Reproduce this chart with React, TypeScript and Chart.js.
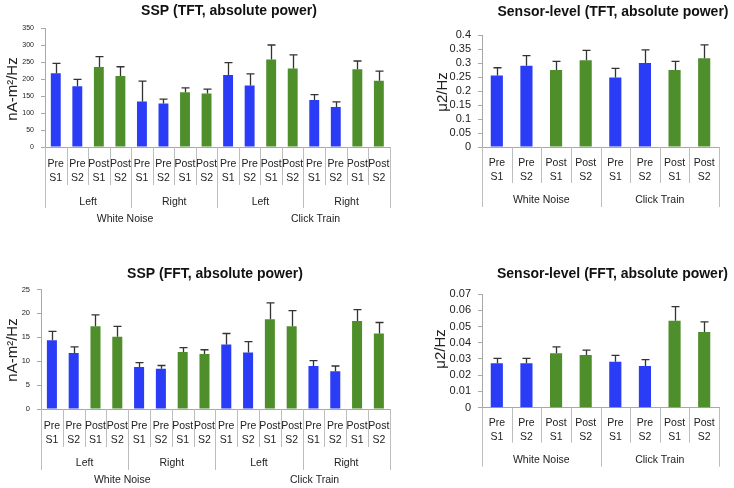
import { useEffect, useRef } from "react";
import { Chart, registerables } from "chart.js";

Chart.register(...registerables);

// ---------- data ----------
const sessionLabels: string[][] = [["Pre", "S1"], ["Pre", "S2"], ["Post", "S1"], ["Post", "S2"]];
const sides = ["Left", "Right"];
const stimuli = ["White Noise", "Click Train"];

const sspTftValues = [217, 179, 235, 209, 134, 128, 161, 157, 212, 181, 257, 231, 138, 118, 229, 195];
const sspTftErrors = [29, 20, 31, 27, 60, 13, 13, 13, 36, 34, 43, 40, 16, 15, 24, 28];

const sensorTftValues = [0.255, 0.29, 0.275, 0.31, 0.248, 0.3, 0.275, 0.317];
const sensorTftErrors = [0.028, 0.036, 0.031, 0.035, 0.033, 0.047, 0.031, 0.048];

const sspFftValues = [14.4, 11.7, 17.3, 15.1, 8.8, 8.4, 11.9, 11.5, 13.5, 11.8, 18.8, 17.3, 9.0, 7.9, 18.4, 15.8];
const sspFftErrors = [1.85, 1.3, 2.4, 2.2, 0.9, 0.7, 0.95, 0.9, 2.3, 2.3, 3.4, 3.3, 1.1, 1.1, 2.4, 2.3];

const sensorFftValues = [0.0273, 0.0273, 0.0335, 0.0324, 0.0283, 0.0257, 0.0536, 0.0466];
const sensorFftErrors = [0.0031, 0.0031, 0.0039, 0.0031, 0.0039, 0.0039, 0.0086, 0.0062];

// ---------- style ----------
const BLUE = "#2a3cf5";
const GREEN = "#4f8f2b";
const LINE = "#bdbdbd";
const TEXT = "#222222";
const FONT = '"Liberation Sans", Arial, sans-serif';

type Panel = {
  x: number; y: number; w: number; h: number;
  left: number; right: number; top: number; bottom: number;
  title: string; titleX: number; titleY: number;
  yTitle: string; yTitleX: number; yTitleY: number;
  yMax: number; yStep: number; yFont: number;
  values: number[]; errors: number[];
  labels: string[][];
  groupSize: number; groups: string[];
  superGroups: string[]; superOffsets: number[];
  tickPad: number; catLine: number; groupLine: number; groupLabelY: number; superLabelY: number;
  barPct: number;
};

const rep = (n: number) => {
  const out: string[][] = [];
  for (let i = 0; i < n; i++) sessionLabels.forEach((l) => out.push(l));
  return out;
};

const panels: Panel[] = [
  {
    x: 0, y: 0, w: 400, h: 235, left: 45, right: 396, top: 28, bottom: 147,
    title: "SSP (TFT, absolute power)", titleX: 229, titleY: 11,
    yTitle: "nA-m²/Hz", yTitleX: 13, yTitleY: 89,
    yMax: 350, yStep: 50, yFont: 7,
    values: sspTftValues, errors: sspTftErrors, labels: rep(4),
    groupSize: 4, groups: [sides[0], sides[1], sides[0], sides[1]],
    superGroups: stimuli, superOffsets: [-6, 12],
    tickPad: 10.5, catLine: 38, groupLine: 61, groupLabelY: 55, superLabelY: 72,
    barPct: 0.46,
  },
  {
    x: 400, y: 0, w: 334, h: 235, left: 82, right: 319, top: 35, bottom: 147,
    title: "Sensor-level (TFT, absolute power)", titleX: 613, titleY: 12.5,
    yTitle: "μ2/Hz", yTitleX: 443, yTitleY: 92,
    yMax: 0.4, yStep: 0.05, yFont: 11,
    values: sensorTftValues, errors: sensorTftErrors, labels: rep(2),
    groupSize: 4, groups: stimuli,
    superGroups: [], superOffsets: [],
    tickPad: 9, catLine: 36, groupLine: 60, groupLabelY: 53, superLabelY: 0,
    barPct: 0.41,
  },
  {
    x: 0, y: 240, w: 400, h: 248, left: 41, right: 396, top: 49.5, bottom: 169,
    title: "SSP (FFT, absolute power)", titleX: 215, titleY: 274,
    yTitle: "nA-m²/Hz", yTitleX: 13, yTitleY: 350,
    yMax: 25, yStep: 5, yFont: 7.5,
    values: sspFftValues, errors: sspFftErrors, labels: rep(4),
    groupSize: 4, groups: [sides[0], sides[1], sides[0], sides[1]],
    superGroups: stimuli, superOffsets: [-6, 12],
    tickPad: 10.5, catLine: 38, groupLine: 61, groupLabelY: 54.5, superLabelY: 71.5,
    barPct: 0.46,
  },
  {
    x: 400, y: 240, w: 334, h: 248, left: 82, right: 319, top: 54, bottom: 167.7,
    title: "Sensor-level (FFT, absolute power)", titleX: 612.5, titleY: 274.5,
    yTitle: "μ2/Hz", yTitleX: 441, yTitleY: 349,
    yMax: 0.07, yStep: 0.01, yFont: 11,
    values: sensorFftValues, errors: sensorFftErrors, labels: rep(2),
    groupSize: 4, groups: stimuli,
    superGroups: [], superOffsets: [],
    tickPad: 8, catLine: 35, groupLine: 59, groupLabelY: 52.5, superLabelY: 0,
    barPct: 0.41,
  },
];

function PanelChart({ p }: { p: Panel }) {
  const ref = useRef<HTMLCanvasElement>(null);
  useEffect(() => {
    const decor = {
      id: "decor",
      afterDatasetsDraw(chart: any) {
        const ctx = chart.ctx as CanvasRenderingContext2D;
        const ys = chart.scales.y;
        const meta = chart.getDatasetMeta(0);
        ctx.save();
        ctx.strokeStyle = "#333333";
        ctx.lineWidth = 1.3;
        meta.data.forEach((el: any, i: number) => {
          const top = ys.getPixelForValue(p.values[i] + p.errors[i]);
          const x = Math.round(el.x) + 0.5;
          ctx.beginPath();
          ctx.moveTo(x, el.y);
          ctx.lineTo(x, top);
          ctx.moveTo(x - 4, top);
          ctx.lineTo(x + 4, top);
          ctx.stroke();
        });
        ctx.restore();
      },
      afterDraw(chart: any) {
        const ctx = chart.ctx as CanvasRenderingContext2D;
        const xs = chart.scales.x;
        const area = chart.chartArea;
        const n = p.values.length;
        const half = (xs.getPixelForValue(1) - xs.getPixelForValue(0)) / 2;
        const boundary = (i: number) => (i < n ? xs.getPixelForValue(i) - half : xs.getPixelForValue(n - 1) + half);
        ctx.save();
        ctx.strokeStyle = LINE;
        ctx.lineWidth = 1;
        for (let i = 0; i <= n; i++) {
          const bx = Math.round(boundary(i)) + 0.5;
          const len = i % p.groupSize === 0 ? p.groupLine : p.catLine;
          ctx.beginPath();
          ctx.moveTo(bx, area.bottom);
          ctx.lineTo(bx, area.bottom + len);
          ctx.stroke();
        }
        ctx.fillStyle = TEXT;
        ctx.font = `10.5px ${FONT}`;
        ctx.textAlign = "center";
        ctx.textBaseline = "middle";
        p.groups.forEach((g, gi) => {
          const cx = (boundary(gi * p.groupSize) + boundary((gi + 1) * p.groupSize)) / 2;
          ctx.fillText(g, cx, area.bottom + p.groupLabelY);
        });
        const superSize = p.groupSize * 2;
        p.superGroups.forEach((g, si) => {
          const cx = (boundary(si * superSize) + boundary((si + 1) * superSize)) / 2 + p.superOffsets[si];
          ctx.fillText(g, cx, area.bottom + p.superLabelY);
        });
        // title
        ctx.fillStyle = "#111111";
        ctx.font = `bold 14px ${FONT}`;
        ctx.fillText(p.title, p.titleX - p.x, p.titleY - p.y);
        // y title
        ctx.save();
        ctx.translate(p.yTitleX - p.x, p.yTitleY - p.y);
        ctx.rotate(-Math.PI / 2);
        ctx.font = `15px ${FONT}`;
        ctx.fillStyle = TEXT;
        ctx.fillText(p.yTitle, 0, 0);
        ctx.restore();
        ctx.restore();
      },
    };

    const chart = new Chart(ref.current!, {
      type: "bar",
      data: {
        labels: p.labels,
        datasets: [
          {
            data: p.values,
            backgroundColor: p.labels.map((l) => (l[0] === "Post" ? GREEN : BLUE)),
            barPercentage: p.barPct,
            categoryPercentage: 1,
            borderWidth: 0,
          },
        ],
      },
      options: {
        responsive: false,
        animation: false,
        devicePixelRatio: 1,
        layout: { padding: { left: 0, right: p.w - p.right, top: p.top, bottom: 0 } },
        plugins: { legend: { display: false }, title: { display: false }, tooltip: { enabled: false } },
        scales: {
          x: {
            type: "category",
            offset: true,
            grid: { display: false, drawTicks: false },
            border: { display: true, color: "#a8a8a8", width: 1 },
            ticks: {
              autoSkip: false,
              maxRotation: 0,
              minRotation: 0,
              padding: p.tickPad,
              color: TEXT,
              font: { family: FONT, size: 10.5, lineHeight: 1.33 },
            },
            afterFit: (s: any) => {
              s.height = p.h - p.bottom;
            },
          },
          y: {
            min: 0,
            max: p.yMax,
            grid: { display: true, drawOnChartArea: false, drawTicks: true, tickLength: 4, color: "#a8a8a8" },
            border: { display: true, color: "#a8a8a8", width: 1 },
            ticks: {
              stepSize: p.yStep,
              autoSkip: false,
              maxTicksLimit: 20,
              padding: 7,
              color: TEXT,
              font: { family: FONT, size: p.yFont, lineHeight: 1 },
              callback: (v: any) => String(parseFloat(Number(v).toFixed(4))),
            },
            afterFit: (s: any) => {
              s.width = p.left;
            },
          },
        },
      },
      plugins: [decor],
    });
    return () => chart.destroy();
  }, [p]);
  return (
    <canvas
      ref={ref}
      width={p.w}
      height={p.h}
      style={{ position: "absolute", left: p.x, top: p.y, width: p.w, height: p.h }}
    />
  );
}

export default function App() {
  return (
    <div style={{ position: "absolute", left: 0, top: 0, width: 734, height: 488, background: "#ffffff" }}>
      {panels.map((p, i) => (
        <PanelChart key={i} p={p} />
      ))}
    </div>
  );
}
